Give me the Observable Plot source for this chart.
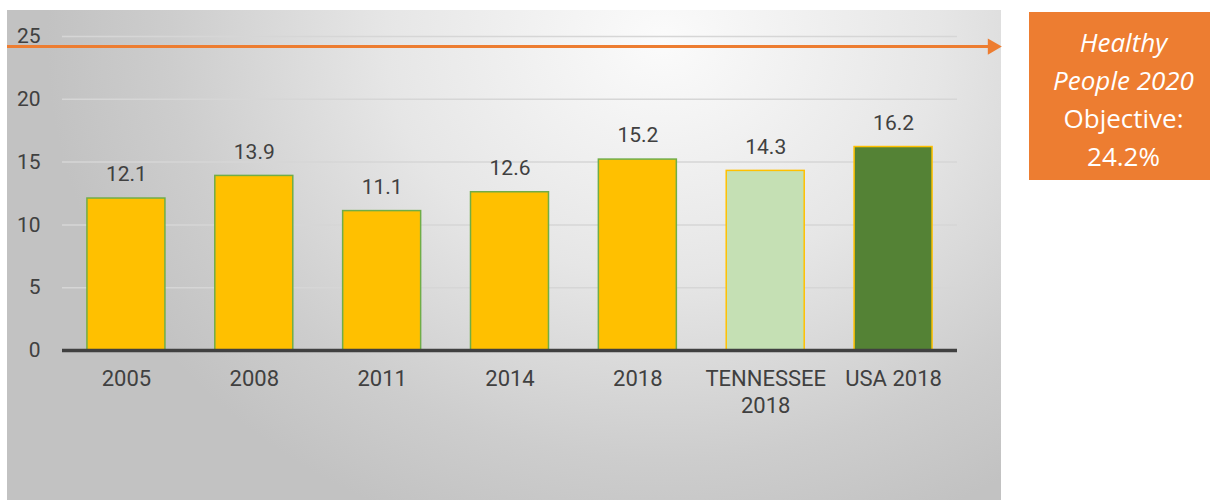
<!DOCTYPE html>
<html>
<head>
<meta charset="utf-8">
<script src="https://cdn.jsdelivr.net/npm/d3@7"></script>
<script src="https://cdn.jsdelivr.net/npm/@observablehq/plot@0.6"></script>
<style>
  html, body { margin: 0; padding: 0; background: #ffffff; }
  #wrap { position: relative; width: 1210px; height: 500px; overflow: hidden; }
  #panel {
    position: absolute; left: 7px; top: 10px; width: 994px; height: 500px;
    background: radial-gradient(ellipse 62% 105% at 66% 6%, #fbfbfb 0%, #e6e6e6 45%, #cdcdcd 80%, #c2c2c2 100%);
  }
  #chart { position: absolute; left: 0; top: 0; }
  #note {
    position: absolute; left: 1029px; top: 12px; width: 181px; height: 168px;
    background: #ED7D31; color: #ffffff; box-sizing: border-box;
    padding-top: 11px; padding-left: 8px;
    font-family: "Open Sans", sans-serif; font-size: 26px; text-align: center;
    white-space: nowrap;
  }
  #note div { line-height: 38px; height: 38px; }
</style>
</head>
<body>
<div id="wrap">
  <div id="panel"></div>
  <div id="chart"></div>
  <div id="note"></div>
</div>
<script>
// ---- data ----
const categories = ["2005", "2008", "2011", "2014", "2018", "TENNESSEE\n2018", "USA 2018"];
const values = [12.1, 13.9, 11.1, 12.6, 15.2, 14.3, 16.2];
const groups = ["trend", "trend", "trend", "trend", "trend", "state", "nation"];
const yTicks = [0, 5, 10, 15, 20, 25];
const objective = 24.2;
const noteLines = ["Healthy", "People 2020", "Objective:", "24.2%"];
const noteItalic = [true, true, false, false];

// ---- styles ----
const fillOf = {trend: "#FFC000", state: "#C5E0B4", nation: "#548235"};
const strokeOf = {trend: "#70AD47", state: "#FFC000", nation: "#FFC000"};
const textColor = "#404040";

const data = categories.map((c, i) => ({cat: c, value: values[i], group: groups[i]}));

const chart = Plot.plot({
  width: 1210,
  height: 500,
  marginLeft: 62,
  marginRight: 253,
  marginTop: 36,
  marginBottom: 150,
  style: {background: "transparent", fontFamily: "Roboto, sans-serif", color: textColor, overflow: "visible"},
  x: {domain: categories, paddingInner: 0.39, paddingOuter: 0.195, round: false, axis: null},
  y: {domain: [0, 25], axis: null},
  marks: [
    Plot.ruleY(yTicks.filter(d => d > 0), {stroke: "#d6d6d6", strokeWidth: 1.5}),
    Plot.axisY(yTicks, {tickSize: 0, tickPadding: 22, fontSize: 21, fill: textColor, label: null}),
    Plot.barY(data, {
      x: "cat", y: "value",
      fill: d => fillOf[d.group],
      stroke: d => strokeOf[d.group],
      strokeWidth: 1.5
    }),
    Plot.ruleY([0], {stroke: "#404040", strokeWidth: 3.5}),
    Plot.text(data, {
      x: "cat", y: "value", text: d => d.value.toFixed(1),
      dy: -24, fontSize: 21, fill: textColor
    }),
    Plot.axisX({tickSize: 0, tickPadding: 17, fontSize: 22, lineHeight: 1.2, fill: textColor, label: null}),
    Plot.ruleY([objective], {stroke: "#ED7D31", strokeWidth: 3, insetLeft: -55, insetRight: -36}),
    Plot.dot([objective], {
      y: d => d, frameAnchor: "right", dx: 35,
      symbol: "triangle", rotate: 90, r: 6, fill: "#ED7D31", stroke: "none"
    })
  ]
});
document.getElementById("chart").appendChild(chart);

const note = document.getElementById("note");
noteLines.forEach((t, i) => {
  const div = document.createElement("div");
  div.textContent = t;
  if (noteItalic[i]) div.style.fontStyle = "italic";
  note.appendChild(div);
});
</script>
</body>
</html>
